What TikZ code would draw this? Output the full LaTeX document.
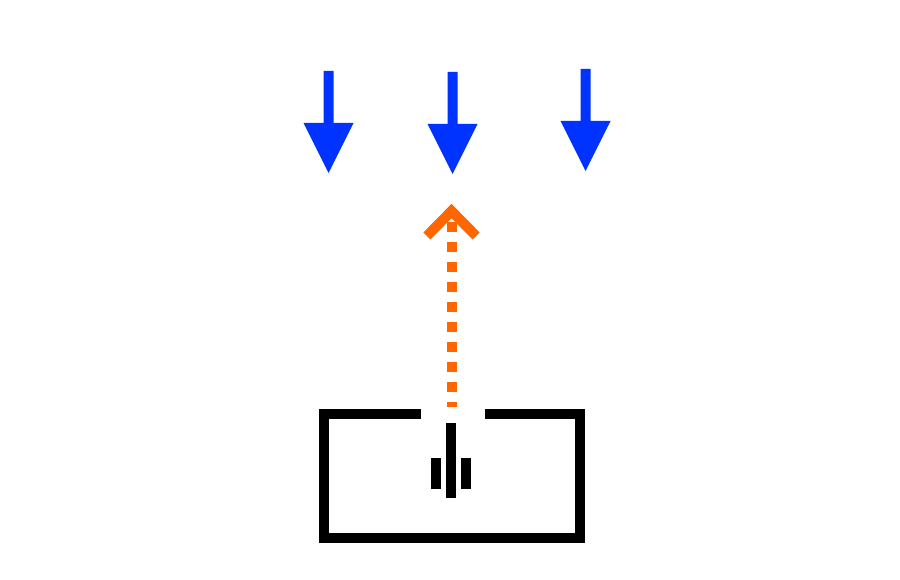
\documentclass[tikz,border=0pt]{standalone}
\definecolor{rainblue}{HTML}{0033FF}
\definecolor{beamorange}{HTML}{FF6600}
\tikzset{
  px/.style={x=1pt,y=-1pt},
  bluefill/.style={fill=rainblue,draw=none},
  beamdash/.style={fill=beamorange,draw=none},
  chevron/.style={draw=beamorange,line width=10pt,line cap=butt,line join=miter},
  housing/.style={draw=black,line width=10pt,line cap=butt,line join=miter},
  electrode/.style={fill=black,draw=none}
}
\begin{document}
\begin{tikzpicture}[px]
\useasboundingbox (0,0) rectangle (900,580);
\fill[white] (0,0) rectangle (900,580);
% falling arrows
\fill[bluefill] (323.5,71) -- (333.5,71) -- (333.5,123) -- (353.5,123) -- (328.5,173) -- (303.5,123) -- (323.5,123) -- cycle;
\fill[bluefill] (447.5,72) -- (457.5,72) -- (457.5,124) -- (477.5,124) -- (452.5,174) -- (427.5,124) -- (447.5,124) -- cycle;
\fill[bluefill] (580.5,69) -- (590.5,69) -- (590.5,121) -- (610.5,121) -- (585.5,171) -- (560.5,121) -- (580.5,121) -- cycle;
% dotted upward beam
\foreach \y in {222,242,...,382} {
  \fill[beamdash] (446.5,\y) rectangle (456.5,\y+10);
}
\fill[beamdash] (446.5,402) rectangle (456.5,407);
\draw[chevron] (426.9,236) -- (451.5,211) -- (476.1,236);
% housing with opening
\draw[housing] (421,414) -- (324,414) -- (324,537.7) -- (580,537.7) -- (580,414) -- (485,414);
% electrode bars
\fill[electrode] (445.5,422.7) rectangle (455.5,498);
\fill[electrode] (430.5,457.7) rectangle (440.5,489);
\fill[electrode] (460.5,457.7) rectangle (470.5,489);
\end{tikzpicture}
\end{document}
